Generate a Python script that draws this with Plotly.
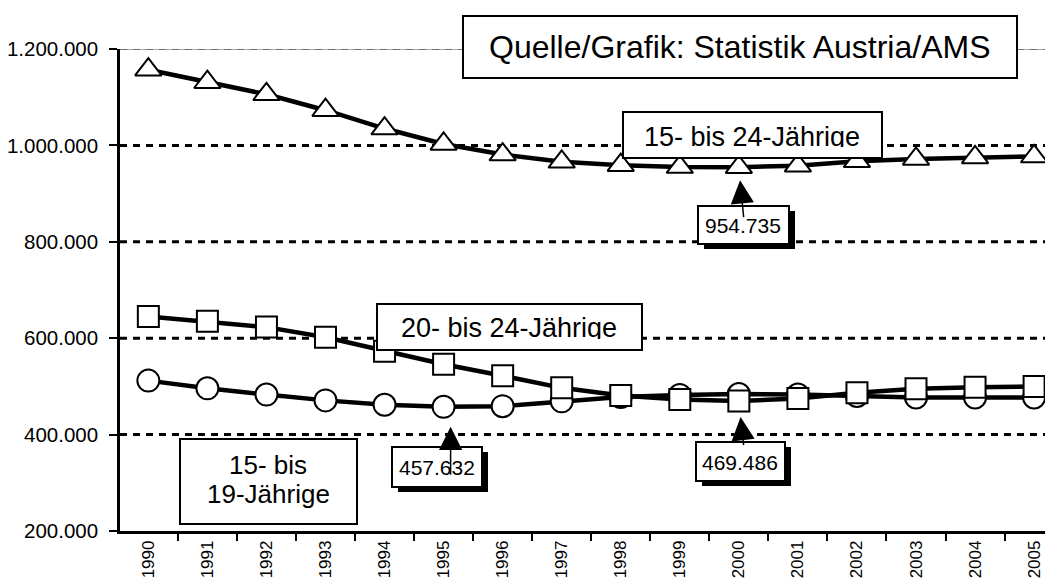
import plotly.graph_objects as go

# Jahre und Bevölkerungszahlen
years = [str(y) for y in range(1990, 2006)]
age_15_24 = [1157000, 1131000, 1106000, 1073000, 1035000, 1003000, 981000, 966000,
             959000, 955000, 954735, 958000, 967000, 972000, 975000, 977000]
age_20_24 = [645000, 635000, 623000, 602000, 573000, 546000, 522000, 497000,
             481000, 473000, 469486, 475000, 487000, 495000, 498000, 500000]
age_15_19 = [512000, 496000, 483000, 471000, 462000, 457632, 459000, 469000,
             478000, 482000, 484000, 483000, 480000, 477000, 477000, 477000]

y_ticks = [200000, 400000, 600000, 800000, 1000000, 1200000]
y_tick_text = ["200.000", "400.000", "600.000", "800.000", "1.000.000", "1.200.000"]

FONT = "Liberation Sans, Arial, sans-serif"

# Seitenränder des Browsers (8px) abziehen
PAGE_W, PAGE_H, OFF = 1053, 581, 8
W, H = PAGE_W - OFF, PAGE_H - OFF
# Plotbereich in Bildschirm-Pixeln
X0, X1, Y0, Y1 = 120, 1053, 49, 531


def px(x):
    return (x - X0) / (X1 - X0)


def py(y):
    return (Y1 - y) / (Y1 - Y0)


fig = go.Figure()

line = dict(color="black", width=4.5)
mk = dict(color="white", line=dict(color="black", width=2))

fig.add_trace(go.Scatter(x=years, y=age_15_24, mode="lines+markers", line=line,
                         marker=dict(symbol="triangle-up", size=23, **mk)))
fig.add_trace(go.Scatter(x=years, y=age_15_19, mode="lines+markers", line=line,
                         marker=dict(symbol="circle", size=22, **mk)))
fig.add_trace(go.Scatter(x=years, y=age_20_24, mode="lines+markers", line=line,
                         marker=dict(symbol="square", size=21, **mk)))

# Gitterlinien
for v in y_ticks[1:-1]:
    fig.add_shape(type="line", xref="paper", x0=0, x1=1, yref="y", y0=v, y1=v,
                  line=dict(color="black", width=3, dash="7px,6px"), layer="below")
fig.add_shape(type="line", xref="paper", x0=0, x1=1, yref="y", y0=1200000, y1=1200000,
              line=dict(color="#a8a8a8", width=2), layer="below")
fig.add_shape(type="line", xref="paper", x0=0, x1=1, yref="y", y0=1200000, y1=1200000,
              line=dict(color="#707070", width=2, dash="7px,6px"), layer="below")


def rect(x0, y0, x1, y1, fill, width):
    fig.add_shape(type="rect", xref="paper", yref="paper",
                  x0=px(x0), x1=px(x1), y0=py(y1), y1=py(y0),
                  fillcolor=fill, line=dict(color="black", width=width),
                  layer="above")


def label(text, x, y, size, clip=None):
    kw = {}
    if clip:
        # Text oben verankert, unten abgeschnitten
        top, bottom, width = clip
        kw = dict(height=bottom - top, width=width, valign="top")
        y = (top + bottom) / 2
    fig.add_annotation(
        text=text, xref="paper", yref="paper", x=px(x), y=py(y),
        xanchor="center", yanchor="middle", showarrow=False,
        borderpad=0, borderwidth=0,
        font=dict(family=FONT, size=size, color="black"), **kw,
    )


def box(x0, y0, x1, y1, shadow=False):
    if shadow:
        rect(x0 + 6, y0 + 5, x1 + 6, y1 + 5, "black", 0)
    rect(x0, y0, x1, y1, "white", 2)


box(463, 16, 1017, 78)
label("Quelle/Grafik: Statistik Austria/AMS", 740, 47, 32)

box(623, 112, 882, 158)
label("15- bis 24-Jährige", 752, 0, 27, clip=(122, 147, 250))

box(377, 304, 642, 350)
label("20- bis 24-Jährige", 509, 0, 27, clip=(313, 339, 256))

box(180, 439, 357, 524)
label("15- bis", 268, 465, 26)
label("19-Jährige", 268, 494, 26)

box(698, 206, 789, 244, shadow=True)
label("954.735", 743, 225, 21)
box(392, 447, 482, 487, shadow=True)
label("457.632", 437, 467, 21)
box(696, 442, 785, 481, shadow=True)
label("469.486", 740, 462, 21)


def arrow(i, y, ax, ay, standoff, xshift=0):
    fig.add_annotation(
        x=i, y=y, xref="x", yref="y", text=" ", font=dict(size=1),
        showarrow=True, ax=ax, ay=ay, standoff=standoff, xshift=xshift,
        arrowhead=2, arrowsize=3.1, arrowwidth=1.5, arrowcolor="black",
    )


arrow(years.index("2000"), age_15_24[10], 5, 52, 13)
arrow(years.index("1995"), age_15_19[5], 0, 70, 20, xshift=7)
arrow(years.index("2000"), age_20_24[10], 5, 46, 16)

fig.update_layout(
    width=W, height=H,
    margin=dict(l=X0 - OFF, r=0, t=Y0 - OFF, b=H - (Y1 - OFF), autoexpand=False),
    plot_bgcolor="white", paper_bgcolor="white",
    showlegend=False,
    font=dict(family=FONT, color="black"),
    xaxis=dict(
        type="category", range=[-0.48, 15.32], tickson="boundaries",
        automargin=False,
        ticks="outside", ticklen=7, tickwidth=2, tickcolor="black",
        showline=True, linewidth=2.5, linecolor="black", showgrid=False,
        tickangle=-90,
        tickfont=dict(family=FONT, size=17, color="black"),
    ),
    yaxis=dict(
        range=[200000, 1200000], tickvals=y_ticks, ticktext=y_tick_text,
        automargin=False,
        ticks="outside", ticklen=8, tickwidth=2, tickcolor="black",
        showline=True, linewidth=2.5, linecolor="black", showgrid=False,
        zeroline=False, ticklabelstandoff=7,
        tickfont=dict(family=FONT, size=20.5, color="black"),
    ),
)

fig.write_html("out.html")
